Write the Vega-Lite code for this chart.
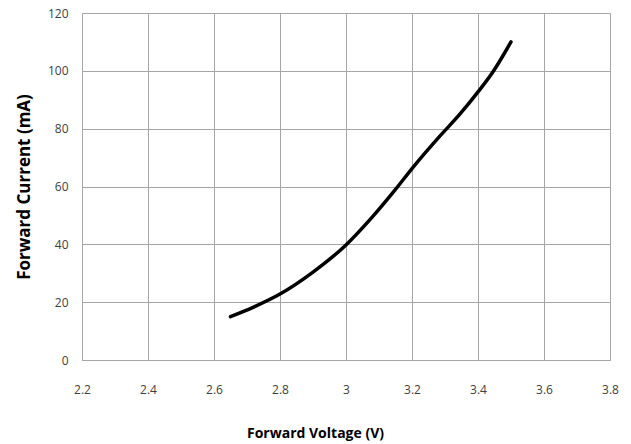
{
  "$schema": "https://vega.github.io/schema/vega-lite/v6.json",
  "width": 528,
  "height": 347,
  "autosize": "none",
  "padding": {"left": 82, "top": 13, "right": 21, "bottom": 84},
  "background": "white",
  "config": {
    "view": {"stroke": null},
    "font": "Open Sans",
    "axis": {
      "gridColor": "#a6a6a6",
      "gridWidth": 1,
      "gridOpacity": 1,
      "domainColor": "#a6a6a6",
      "domainWidth": 1,
      "ticks": false,
      "labelFont": "Open Sans",
      "labelFontSize": 12,
      "labelColor": "#404040",
      "titleFont": "Open Sans",
      "titleFontSize": 14,
      "titleFontWeight": "bold",
      "titleColor": "#000000"
    }
  },
  "data": {
    "values": [
      {"v": 2.65, "i": 15},
      {"v": 2.72, "i": 18.3},
      {"v": 2.8, "i": 22.8},
      {"v": 2.9, "i": 30.4},
      {"v": 3.0, "i": 39.8},
      {"v": 3.08, "i": 49.5},
      {"v": 3.15, "i": 59},
      {"v": 3.2, "i": 66.2},
      {"v": 3.285, "i": 77.5},
      {"v": 3.345, "i": 85},
      {"v": 3.4, "i": 92.7},
      {"v": 3.445, "i": 99.6},
      {"v": 3.5, "i": 110}
    ]
  },
  "mark": {"type": "line", "color": "#000000", "strokeWidth": 3.5, "interpolate": "monotone", "strokeCap": "round"},
  "encoding": {
    "x": {
      "field": "v",
      "type": "quantitative",
      "scale": {"domain": [2.2, 3.8], "nice": false, "zero": false},
      "axis": {
        "values": [2.2, 2.4, 2.6, 2.8, 3.0, 3.2, 3.4, 3.6, 3.8],
        "format": "~g",
        "labelPadding": 24,
        "title": "Forward  Voltage (V)",
        "titleX": 233,
        "titleAlign": "center",
        "titlePadding": 31,
        "labelFlush": false
      }
    },
    "y": {
      "field": "i",
      "type": "quantitative",
      "scale": {"domain": [0, 120], "nice": false},
      "axis": {
        "values": [0, 20, 40, 60, 80, 100, 120],
        "labelPadding": 14,
        "title": "Forward  Current (mA)",
        "titleFontSize": 17,
        "titlePadding": 14,
        "labelFlush": false
      }
    }
  }
}
